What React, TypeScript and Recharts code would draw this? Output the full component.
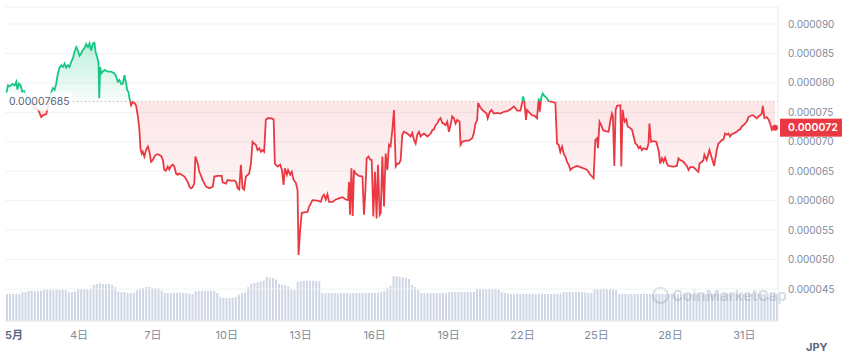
import React from 'react';
import {
  ComposedChart,
  Area,
  XAxis,
  YAxis,
  CartesianGrid,
  ReferenceLine,
  ReferenceDot,
  BarChart,
  Bar,
} from 'recharts';

// time in hours since 5月1日 00:00 (JST)
const hours = [
  1.3, 2.9, 4.5, 7.2, 9.4, 11.0, 12.0, 13.6, 15.2, 16.8, 18.6, 21.7, 25.6, 29.5, 32.4, 35.3, 37.0, 40.2, 42.2, 45.1,
  46.7, 48.3, 49.9, 51.5, 53.1, 54.8, 56.5, 58.0, 59.6, 61.3, 62.8, 64.6, 66.2, 67.7, 69.4, 71.0, 72.6, 74.2, 75.8, 77.4,
  79.0, 80.8, 82.3, 83.9, 85.6, 87.1, 88.2, 89.8, 91.1, 91.8, 92.7, 93.7, 95.3, 96.9, 100.1, 103.4, 106.6, 108.2, 109.9, 111.4,
  113.2, 114.8, 116.3, 118.0, 118.9, 120.2, 121.2, 122.1, 122.8, 124.5, 126.1, 127.7, 129.4, 130.9, 131.9, 133.2, 134.2, 135.7, 137.4, 139.1,
  140.6, 142.3, 143.9, 145.5, 147.1, 148.7, 152.0, 153.7, 155.2, 156.8, 158.5, 160.0, 161.7, 163.4, 164.9, 166.6, 168.2, 169.8, 171.4, 174.7,
  178.0, 179.5, 181.1, 182.8, 184.4, 185.4, 187.7, 189.2, 190.8, 192.5, 195.8, 199.0, 202.3, 203.8, 207.1, 211.0, 212.0, 215.2, 216.8, 220.0,
  223.3, 224.9, 226.6, 228.1, 229.7, 231.4, 232.9, 234.6, 237.8, 239.5, 241.1, 242.7, 244.3, 245.9, 247.6, 249.2, 250.9, 252.4, 254.0, 255.7,
  259.0, 261.6, 262.8, 265.5, 268.0, 269.7, 271.3, 272.6, 274.5, 275.7, 277.7, 279.3, 280.9, 283.3, 284.9, 285.9, 287.4, 289.0, 291.3, 294.6,
  296.2, 299.5, 304.4, 307.6, 309.2, 310.7, 312.4, 314.0, 315.6, 318.9, 322.1, 325.3, 328.7, 331.9, 334.1, 335.0, 336.0, 337.4, 338.6, 339.9,
  341.5, 344.8, 348.1, 349.6, 351.0, 352.2, 353.9, 355.5, 357.1, 358.7, 360.3, 361.9, 363.2, 364.9, 365.9, 367.5, 369.1, 370.7, 372.4, 373.9,
  375.5, 377.2, 378.8, 380.5, 382.1, 383.7, 385.3, 386.9, 388.5, 391.8, 395.0, 396.6, 398.3, 399.9, 401.5, 403.2, 404.8, 406.4, 408.0, 411.4,
  414.6, 416.2, 417.8, 419.3, 421.0, 422.5, 424.1, 425.9, 427.4, 429.1, 430.7, 432.3, 433.9, 435.5, 437.2, 438.8, 440.4, 442.7, 443.6, 445.2,
  448.5, 451.7, 455.0, 456.5, 458.2, 459.8, 460.8, 462.4, 464.7, 466.9, 469.0, 470.1, 472.2, 473.8, 476.0, 479.3, 482.5, 485.8, 489.0, 492.2,
  495.5, 497.1, 498.8, 502.0, 503.6, 504.5, 505.8, 507.4, 508.4, 510.1, 511.7, 513.3, 515.8, 518.1, 519.8, 520.8, 522.1, 523.7, 525.3, 527.9,
  529.5, 532.8, 536.0, 537.6, 539.2, 540.8, 542.5, 544.1, 545.7, 547.4, 549.0, 550.6, 552.2, 555.5, 557.1, 560.3, 563.5, 566.9, 570.1, 573.2,
  574.9, 576.5, 577.5, 579.0, 580.7, 582.4, 584.6, 587.8, 589.4, 591.1, 592.0, 593.4, 594.7, 596.0, 599.3, 600.2, 601.5, 602.4, 603.5, 605.1,
  606.4, 609.1, 610.7, 612.2, 613.9, 615.5, 617.2, 618.6, 620.3, 621.8, 625.1, 626.7, 627.6, 629.1, 631.6, 634.2, 635.5, 636.8, 638.0, 639.8,
  641.3, 642.9, 644.6, 646.1, 650.9, 654.3, 655.9, 657.5, 660.7, 664.0, 665.7, 667.3, 670.5, 673.8, 675.3, 676.4, 678.7, 680.2, 681.1, 683.4,
  686.0, 688.4, 690.6, 693.2, 694.8, 696.5, 698.1, 699.7, 701.3, 702.9, 704.5, 706.1, 707.7, 709.3, 712.6, 714.3, 715.9, 717.5, 719.1, 720.7,
  722.3, 724.0, 727.3, 728.9, 730.5, 732.2, 733.8, 735.4, 737.0, 738.0, 739.6, 741.9, 743.5, 745.2, 746.8, 748.4, 749.9,
];

// price in units of 0.000001 JPY
const prices = [
  78.2, 79.6, 79.4, 79.8, 79.6, 80.2, 78.9, 79.9, 79.6, 78.5, 78.6, 77.6, 76.6, 75.7, 75.4, 74.2, 74.5, 74.7, 76.2, 78.5,
  79.1, 78.8, 79.9, 81.6, 82.6, 83.0, 82.7, 83.3, 82.6, 83.0, 82.7, 83.6, 84.2, 85.3, 86.1, 85.5, 84.6, 85.0, 85.6, 85.9,
  86.6, 86.1, 86.7, 85.5, 86.7, 86.8, 85.3, 84.4, 83.3, 77.4, 82.7, 81.6, 81.9, 82.2, 81.9, 81.9, 81.6, 81.1, 80.2, 80.5,
  79.8, 79.9, 81.3, 79.9, 78.8, 78.5, 77.4, 76.8, 76.2, 76.8, 76.6, 76.1, 74.3, 72.0, 68.9, 68.0, 68.3, 67.5, 68.6, 69.2,
  68.3, 66.6, 66.9, 67.5, 67.8, 67.9, 67.6, 66.9, 65.2, 65.1, 65.8, 65.3, 65.9, 66.1, 65.8, 64.6, 64.4, 64.6, 64.5, 64.1,
  63.2, 62.4, 62.1, 62.3, 63.0, 67.5, 66.3, 64.9, 64.3, 63.5, 62.4, 62.1, 62.4, 64.1, 64.2, 64.2, 63.1, 62.9, 63.5, 63.4,
  63.4, 63.2, 62.1, 61.9, 66.1, 62.1, 61.9, 64.1, 64.6, 66.3, 70.0, 69.7, 69.5, 68.6, 68.9, 68.3, 68.6, 68.3, 73.7, 74.0,
  74.0, 73.8, 66.3, 65.8, 66.1, 65.2, 62.7, 65.5, 64.4, 65.2, 64.4, 64.9, 63.6, 63.0, 61.8, 50.8, 55.0, 57.9, 58.0, 58.1,
  59.0, 60.1, 60.0, 59.8, 60.7, 61.0, 60.2, 61.1, 59.8, 59.8, 60.2, 60.4, 60.6, 60.2, 60.1, 63.2, 57.6, 65.5, 57.4, 65.2,
  64.6, 64.2, 64.1, 57.6, 61.8, 67.2, 67.5, 67.0, 66.9, 57.3, 64.9, 57.0, 66.1, 57.6, 57.9, 67.5, 59.0, 68.0, 65.2, 69.5,
  69.2, 72.0, 75.4, 65.8, 66.3, 66.3, 66.9, 71.2, 71.7, 71.4, 70.9, 71.5, 70.3, 69.7, 71.2, 71.7, 70.9, 71.2, 71.4, 70.9,
  71.4, 72.0, 72.1, 72.8, 73.1, 73.7, 74.0, 73.2, 73.1, 72.8, 73.4, 71.7, 72.8, 74.3, 74.0, 73.1, 73.7, 73.4, 69.5, 70.0,
  70.2, 70.2, 70.6, 71.4, 73.1, 73.7, 76.6, 76.0, 75.4, 75.1, 74.8, 74.0, 75.1, 75.4, 74.8, 74.9, 74.8, 75.1, 75.2, 75.5,
  76.0, 75.7, 75.3, 75.3, 76.6, 77.7, 76.8, 73.7, 75.4, 75.1, 74.8, 74.5, 74.4, 74.0, 77.4, 75.1, 77.4, 78.2, 77.8, 77.4,
  76.9, 76.8, 76.6, 69.7, 69.5, 68.3, 69.2, 68.0, 67.5, 66.6, 66.1, 65.2, 65.5, 65.8, 65.9, 65.7, 65.5, 65.2, 64.4, 63.8,
  70.3, 70.6, 68.9, 73.4, 72.8, 72.0, 71.8, 71.7, 73.4, 74.8, 74.3, 65.9, 75.4, 76.1, 76.2, 65.8, 75.4, 74.3, 73.4, 73.8,
  72.6, 72.3, 72.0, 70.9, 69.7, 69.5, 68.9, 69.2, 68.6, 68.9, 68.7, 69.7, 73.1, 70.0, 70.1, 70.0, 69.2, 68.3, 66.3, 67.2,
  66.6, 67.3, 66.3, 65.9, 65.8, 65.9, 67.2, 66.9, 66.6, 65.9, 65.2, 65.7, 65.7, 65.1, 64.9, 66.3, 66.6, 66.9, 67.8, 66.9,
  68.6, 67.2, 65.9, 68.6, 69.7, 70.0, 70.3, 70.4, 71.4, 71.2, 71.4, 70.9, 71.3, 71.4, 71.7, 72.0, 72.1, 72.6, 72.8, 73.1,
  73.4, 74.2, 74.5, 74.5, 74.2, 74.0, 74.3, 74.5, 74.8, 76.1, 74.0, 74.2, 73.8, 73.1, 72.0, 72.3, 72.4,
];

// 3-hourly volume (relative units)
const volumes = [
  86, 86, 86, 87, 86, 92, 92, 96, 96, 95, 96, 96, 99, 99, 100, 99, 99, 99, 100, 99,
  92, 92, 93, 101, 102, 102, 101, 102, 115, 118, 120, 118, 117, 118, 115, 108, 94, 92, 92, 89,
  89, 90, 97, 100, 106, 108, 108, 106, 105, 104, 97, 90, 89, 89, 89, 90, 90, 89, 89, 87,
  86, 95, 96, 96, 96, 95, 96, 95, 89, 76, 73, 73, 73, 74, 76, 84, 89, 91, 108, 118,
  121, 123, 126, 128, 140, 138, 137, 132, 118, 115, 114, 110, 100, 98, 124, 127, 128, 128, 127, 128,
  127, 126, 89, 89, 88, 89, 89, 88, 89, 89, 89, 88, 89, 89, 89, 88, 89, 90, 89, 89,
  90, 92, 95, 105, 112, 143, 142, 141, 139, 137, 134, 115, 108, 98, 89, 89, 89, 88, 89, 89,
  89, 90, 89, 92, 93, 92, 93, 92, 92, 93, 92, 93, 102, 102, 101, 102, 103, 102, 102, 101,
  92, 89, 87, 86, 86, 87, 86, 86, 86, 87, 86, 86, 86, 87, 86, 86, 86, 87, 86, 88,
  92, 92, 93, 92, 92, 93, 92, 91, 89, 89, 101, 102, 102, 103, 102, 102, 101, 98, 86, 87,
  86, 86, 87, 86, 86, 86, 87, 86, 86, 86, 87, 86, 86, 86, 86, 87, 86, 86, 86, 87,
  86, 86, 86, 86, 87, 86, 86, 86, 87, 86, 86, 86, 86, 87, 86, 86, 86, 87, 86, 86,
  86, 86, 87, 86, 86, 86, 86, 87, 86, 86,
];

const dayTicks = [0, 72, 144, 216, 288, 360, 432, 504, 576, 648, 720];
const dayLabels = ['5月', '4日', '7日', '10日', '13日', '16日', '19日', '22日', '25日', '28日', '31日'];
const yTicks = [45, 50, 55, 60, 65, 70, 75, 80, 85, 90];
const BASE = 76.85;
const BASE_LABEL = '0.00007685';

const priceData = hours.map((t, i) => ({ t, p: prices[i] }));
const volData = volumes.map((v, i) => ({ i, v }));
const LAST = priceData[priceData.length - 1];

const maxP = Math.max(...prices);
const minP = Math.min(...prices);
const off = (maxP - BASE) / (maxP - minP);

const W = 842;
const H = 360;
const GREEN = '#16c784';
const RED = '#ea3943';
const FONT = 'Inter, "Noto Sans CJK JP", sans-serif';
const X_DOMAIN: [number, number] = [0, 752.8];
const Y_DOMAIN: [number, number] = [39.57, 92.89];

const XTick = (props: any) => {
  const { x, y, payload } = props;
  const idx = dayTicks.indexOf(payload.value);
  const first = idx === 0;
  return (
    <text
      x={x}
      y={y}
      dy="0.71em"
      textAnchor={first ? 'start' : 'middle'}
      fill={first ? '#58667e' : '#808a9d'}
      fontWeight={first ? 600 : 400}
      fontSize={11}
      fontFamily={FONT}
    >
      {dayLabels[idx]}
    </text>
  );
};

const BaseLabel = (props: any) => {
  const vb = props.viewBox || {};
  return (
    <g>
      <rect x={vb.x} y={vb.y - 9} width={67} height={18} fill="#ffffff" fillOpacity={0.85} />
      <text x={vb.x + 4} y={vb.y} dy="0.35em" fontSize={10.5} fill="#58667e" fontFamily={FONT}>
        {BASE_LABEL}
      </text>
    </g>
  );
};

const LastLabel = (props: any) => {
  const vb = props.viewBox || {};
  const x0 = vb.x + vb.width + 2;
  return (
    <g>
      <rect x={x0} y={vb.y - 9} width={62} height={18} fill={RED} />
      <text x={x0 + 8} y={vb.y} dy="0.35em" fontSize={10.5} fontWeight={600} fill="#ffffff" fontFamily={FONT}>
        {(LAST.p * 1e-6).toFixed(6)}
      </text>
    </g>
  );
};

export default function App() {
  return (
    <div style={{ position: 'absolute', left: 0, top: 0, width: W, height: H, background: '#fff', fontFamily: FONT }}>
      <div style={{ position: 'absolute', left: 0, top: 0 }}>
        <BarChart width={W} height={H} data={volData} margin={{ top: 7, right: 64, bottom: 39, left: 5 }} barCategoryGap={0}>
          <XAxis dataKey="i" hide />
          <YAxis hide domain={[0, 1000]} />
          <Bar dataKey="v" fill="#cfd6e4" barSize={2} isAnimationActive={false} />
        </BarChart>
      </div>
      <div
        style={{
          position: 'absolute',
          left: 652,
          top: 286,
          display: 'flex',
          alignItems: 'center',
          gap: 3,
          color: 'rgba(120,130,155,0.28)',
          fontSize: 15,
          fontWeight: 700,
          fontFamily: FONT,
          whiteSpace: 'nowrap',
        }}
      >
        <span
          style={{
            display: 'inline-block',
            width: 13,
            height: 13,
            borderRadius: '50%',
            border: '2px solid rgba(120,130,155,0.28)',
          }}
        />
        <span>CoinMarketCap</span>
      </div>
      <div style={{ position: 'absolute', left: 0, top: 0 }}>
        <ComposedChart width={W} height={H} data={priceData} margin={{ top: 7, right: 0, bottom: 0, left: 5 }}>
          <defs>
            <linearGradient id="strokeGrad" x1="0" y1="0" x2="0" y2="1">
              <stop offset={off} stopColor={GREEN} />
              <stop offset={off} stopColor={RED} />
            </linearGradient>
            <linearGradient id="fillGrad" x1="0" y1="0" x2="0" y2="1">
              <stop offset={0} stopColor={GREEN} stopOpacity={0.28} />
              <stop offset={off} stopColor={GREEN} stopOpacity={0.03} />
              <stop offset={off} stopColor={RED} stopOpacity={0.13} />
              <stop offset={1} stopColor={RED} stopOpacity={0.0} />
            </linearGradient>
          </defs>
          <CartesianGrid vertical={false} stroke="#eff2f5" />
          <XAxis
            dataKey="t"
            type="number"
            domain={X_DOMAIN}
            ticks={dayTicks}
            tick={<XTick />}
            height={39}
            tickLine={false}
            tickMargin={4}
            axisLine={{ stroke: '#e6e9ee' }}
            allowDataOverflow
          />
          <XAxis
            xAxisId="top"
            orientation="top"
            dataKey="t"
            type="number"
            domain={X_DOMAIN}
            height={0}
            tick={false}
            tickLine={false}
            axisLine={{ stroke: '#e6e9ee' }}
            allowDataOverflow
          />
          <YAxis
            orientation="right"
            domain={Y_DOMAIN}
            ticks={yTicks}
            width={64}
            tickLine={false}
            tickMargin={4}
            axisLine={{ stroke: '#e6e9ee' }}
            tick={{ fill: '#808a9d', fontSize: 10, fontFamily: FONT }}
            tickFormatter={(v: number) => (v * 1e-6).toFixed(6)}
            allowDataOverflow
          />
          <YAxis
            yAxisId="left"
            orientation="left"
            domain={Y_DOMAIN}
            width={0}
            tick={false}
            tickLine={false}
            axisLine={{ stroke: '#e6e9ee' }}
            allowDataOverflow
          />
          <Area
            type="linear"
            dataKey="p"
            baseValue={BASE}
            stroke="url(#strokeGrad)"
            strokeWidth={1.8}
            fill="url(#fillGrad)"
            fillOpacity={1}
            dot={false}
            activeDot={false}
            isAnimationActive={false}
          />
          <ReferenceLine y={BASE} stroke="#a9b2c3" strokeDasharray="1 3" label={BaseLabel} />
          <ReferenceLine y={LAST.p} stroke="none" label={LastLabel} />
          <ReferenceDot x={LAST.t} y={LAST.p} r={3} fill={RED} stroke="none" />
        </ComposedChart>
      </div>
      <div
        style={{
          position: 'absolute',
          left: 806,
          top: 340,
          fontSize: 11,
          fontWeight: 700,
          color: '#58667e',
          fontFamily: FONT,
        }}
      >
        JPY
      </div>
    </div>
  );
}
